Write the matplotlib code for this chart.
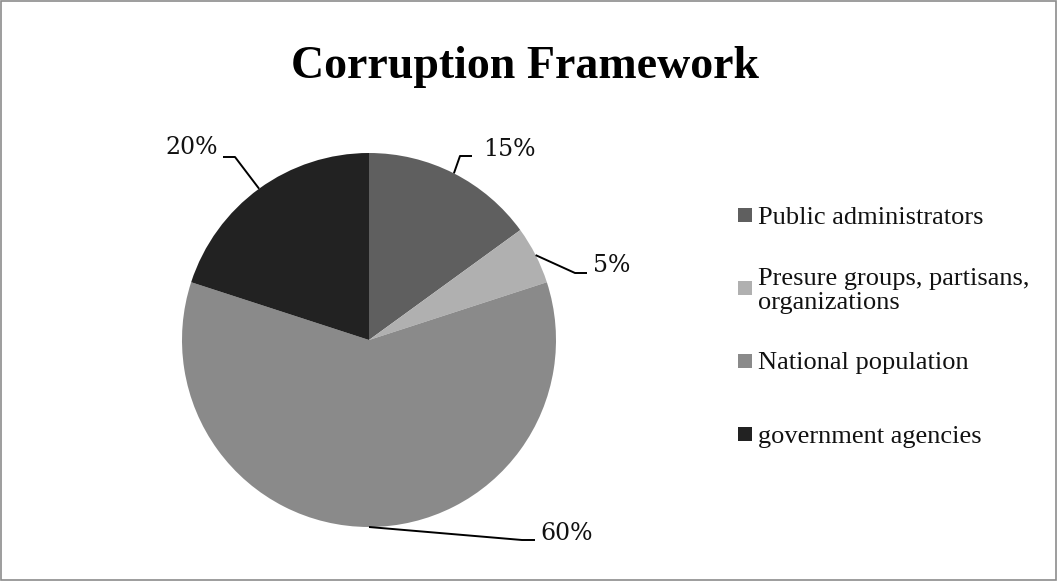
import numpy as np
import matplotlib
matplotlib.use('Agg')
import matplotlib.pyplot as plt
from matplotlib.patches import Rectangle

# data
categories = ['Public administrators',
              'Presure groups, partisans,\norganizations',
              'National population',
              'government agencies']
shares = [15, 5, 60, 20]
colors = ['#5f5f5f', '#b0b0b0', '#8a8a8a', '#222222']

W, H = 1057, 581

def Y(y):
    # image pixel row -> data y
    return H - y

fig = plt.figure(figsize=(W / 100, H / 100), dpi=100)
ax = fig.add_axes([0, 0, 1, 1])

# outer frame
fig.patches.append(Rectangle((0.001, 0.001), 0.998, 0.997, transform=fig.transFigure,
                             fill=False, edgecolor='#8c8c8c', linewidth=1.2))

cx, cy, R = 369, 340, 187
wedges, _ = ax.pie(shares, colors=colors, startangle=90, counterclock=False,
                   center=(cx, Y(cy)), radius=R, frame=True,
                   wedgeprops=dict(linewidth=0))
ax.set_xlim(0, W)
ax.set_ylim(0, H)
ax.axis('off')

# leader lines: (elbow, end, text pos, ha) in image pixels
layout = [
    ((460, 156), (472, 156), (483, 149), 'left'),
    ((575, 273), (587, 273), (593, 265), 'left'),
    ((522, 540), (535, 540), (540, 534), 'left'),
    ((235, 157), (223, 157), (218, 148), 'right'),
]
for w, val, (elb, end, tp, ha) in zip(wedges, shares, layout):
    mid = np.deg2rad((w.theta1 + w.theta2) / 2)
    sx = cx + R * np.cos(mid)
    sy = Y(cy) + R * np.sin(mid)
    ax.plot([sx, elb[0], end[0]], [sy, Y(elb[1]), Y(end[1])],
            color='black', linewidth=1.4, solid_capstyle='butt')
    ax.text(tp[0], Y(tp[1]), f'{val}%', ha=ha, va='center',
            fontsize=17, family='DejaVu Serif', color='#111111')

# title
ax.text(525, Y(78), 'Corruption Framework', ha='center', va='baseline',
        fontsize=33, fontweight='bold', family='Liberation Serif')

# legend (Excel style, even slots)
for i, (lab, col) in enumerate(zip(categories, colors)):
    yc = 215 + 73 * i
    ax.add_patch(Rectangle((738, Y(yc + 7)), 14, 14, facecolor=col, edgecolor='none'))
    ax.text(758, Y(yc), lab, ha='left', va='center_baseline', fontsize=19,
            family='Liberation Serif', linespacing=1.08, color='#111111')

fig.savefig('out.png', dpi=100)
